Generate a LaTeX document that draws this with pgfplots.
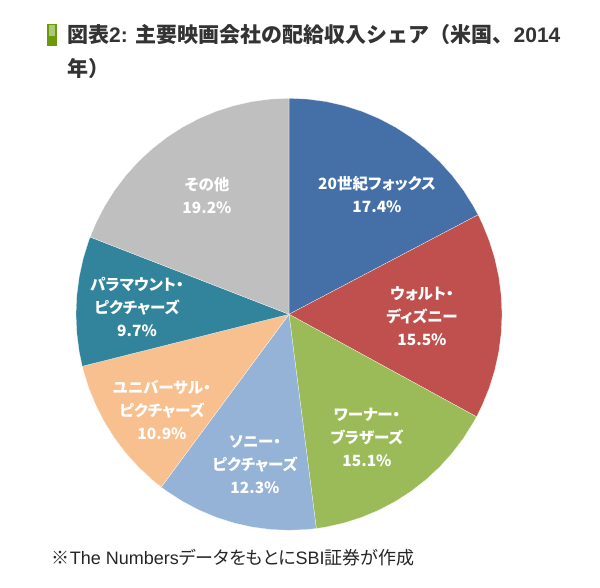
\documentclass[border=0pt]{standalone}
\usepackage{pgfplots}
\pgfplotsset{compat=1.18}
\usepackage{fontspec}
\setmainfont{Liberation Sans}
\newfontfamily\lat{Liberation Sans}
\newfontfamily\cjk{Noto Sans CJK JP}
\newfontfamily\cjkp{Noto Sans CJK JP}[RawFeature=+palt]

\definecolor{cfox}{HTML}{4470A7}
\definecolor{cdisney}{HTML}{C0504D}
\definecolor{cwarner}{HTML}{9BBB59}
\definecolor{csony}{HTML}{95B3D7}
\definecolor{cuniv}{HTML}{F9C08F}
\definecolor{cpara}{HTML}{31849B}
\definecolor{cother}{HTML}{BFBFBF}
\definecolor{titlegray}{HTML}{333333}
\definecolor{barg}{HTML}{6A9A0A}
\definecolor{barl}{HTML}{A9C87A}

% shares (%): Fox 17.4, Disney 15.5, Warner 15.1, Sony 12.3,
% Universal 10.9, Paramount 9.7, Other 19.2 (sum 100.1)
% wedges in polar (angle, radius), clockwise from 12 o'clock

\begin{document}
\begin{tikzpicture}[x=1bp,y=1bp]
\path[use as bounding box] (0,0) rectangle (600,588);

% title
\fill[barg] (47.3,541.5) rectangle (56.7,564);
\fill[barl] (49.3,552) rectangle (54.5,562.5);
\node[anchor=base west, inner sep=0, text=titlegray,
  font=\fontsize{21bp}{35bp}\selectfont\bfseries] at (67,545)
  {\cjk 図表\lat 2: \cjk 主要映画会社の配給収入シェア（米国、\lat 2014};
\node[anchor=base west, inner sep=0, text=titlegray,
  font=\fontsize{21bp}{35bp}\selectfont\bfseries] at (67,511) {\cjk 年）};

\begin{axis}[at={(289bp,273.7bp)}, anchor=center,
  scale only axis, width=426bp, height=432bp,
  xmin=-1, xmax=1, ymin=-1, ymax=1,
  hide axis, clip=false]
% 20世紀フォックス 17.4
\addplot[data cs=polar, fill=cfox, draw=white, line width=0.2pt] coordinates {
(0,0) (90,1) (85,1) (80,1) (75,1) (70,1) (65,1) (60,1) (55,1) (50,1)
(45,1) (40,1) (35,1) (30,1) (27.42,1) (0,0)};
% ウォルト・ディズニー 15.5
\addplot[data cs=polar, fill=cdisney, draw=white, line width=0.2pt] coordinates {
(0,0) (27.42,1) (25,1) (20,1) (15,1) (10,1) (5,1) (0,1) (-5,1) (-10,1)
(-15,1) (-20,1) (-25,1) (-28.32,1) (0,0)};
% ワーナー・ブラザーズ 15.1
\addplot[data cs=polar, fill=cwarner, draw=white, line width=0.2pt] coordinates {
(0,0) (-28.32,1) (-30,1) (-35,1) (-40,1) (-45,1) (-50,1) (-55,1) (-60,1)
(-65,1) (-70,1) (-75,1) (-80,1) (-82.63,1) (0,0)};
% ソニー・ピクチャーズ 12.3
\addplot[data cs=polar, fill=csony, draw=white, line width=0.2pt] coordinates {
(0,0) (-82.63,1) (-85,1) (-90,1) (-95,1) (-100,1) (-105,1) (-110,1)
(-115,1) (-120,1) (-125,1) (-126.87,1) (0,0)};
% ユニバーサル・ピクチャーズ 10.9
\addplot[data cs=polar, fill=cuniv, draw=white, line width=0.2pt] coordinates {
(0,0) (-126.87,1) (-130,1) (-135,1) (-140,1) (-145,1) (-150,1) (-155,1)
(-160,1) (-165,1) (-166.07,1) (0,0)};
% パラマウント・ピクチャーズ 9.7
\addplot[data cs=polar, fill=cpara, draw=white, line width=0.2pt] coordinates {
(0,0) (-166.07,1) (-170,1) (-175,1) (-180,1) (-185,1) (-190,1) (-195,1)
(-200,1) (-200.96,1) (0,0)};
% その他 19.2
\addplot[data cs=polar, fill=cother, draw=white, line width=0.2pt] coordinates {
(0,0) (-200.96,1) (-205,1) (-210,1) (-215,1) (-220,1) (-225,1) (-230,1)
(-235,1) (-240,1) (-245,1) (-250,1) (-255,1) (-260,1) (-265,1) (-270,1) (0,0)};
\end{axis}

% slice labels
\tikzset{lbl/.style={text=white, align=center, inner sep=0,
  font=\cjkp\bfseries\fontsize{15.5bp}{23bp}\selectfont}}
\node[lbl] at (377,394) {20世紀フォックス\\17.4\%};
\node[lbl] at (422,272) {ウォルト・\\ディズニー\\15.5\%};
\node[lbl] at (367,151) {ワーナー・\\ブラザーズ\\15.1\%};
\node[lbl] at (255,123) {ソニー・\\ピクチャーズ\\12.3\%};
\node[lbl] at (162,178) {ユニバーサル・\\ピクチャーズ\\10.9\%};
\node[lbl] at (137,281) {パラマウント・\\ピクチャーズ\\9.7\%};
\node[lbl] at (207,392) {その他\\19.2\%};

% source note
\node[anchor=base west, inner sep=0, text=black!85] at (51.7,23)
  {\cjkp\fontsize{18bp}{20bp}\selectfont ※\lat The Numbers\cjkp データをもとに\lat SBI\cjkp 証券が作成};
\end{tikzpicture}
\end{document}
